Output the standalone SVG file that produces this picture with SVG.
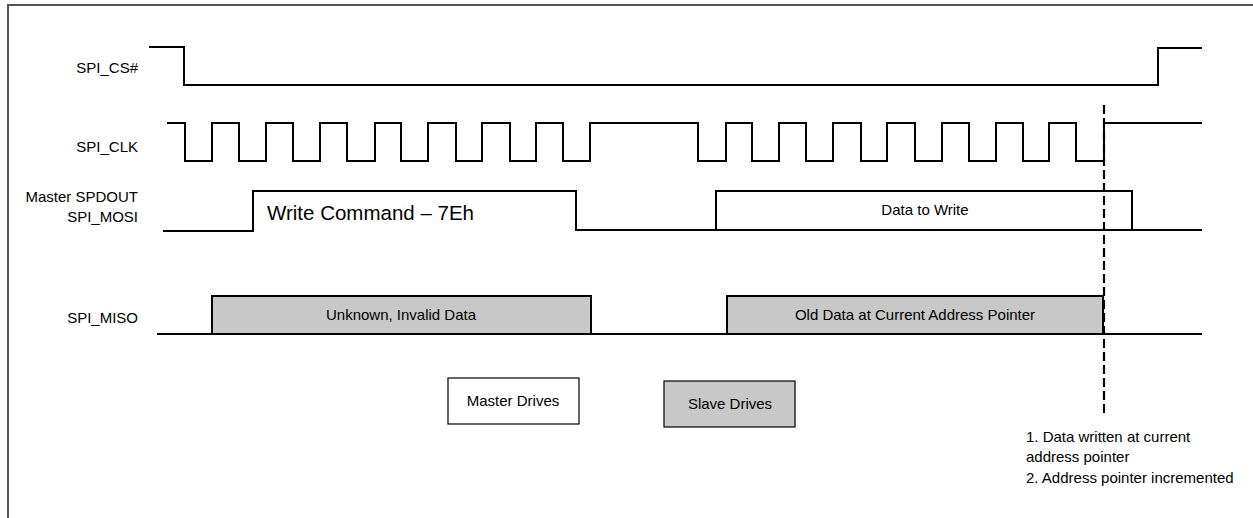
<svg xmlns="http://www.w3.org/2000/svg" width="1253" height="518" viewBox="0 0 1253 518">
<style>
.w{fill:none;stroke:#000;stroke-width:2;stroke-linejoin:miter}
.lbl{font-family:"Liberation Sans",Arial,sans-serif;font-size:15px;fill:#000}
.r{text-anchor:end}
.c{text-anchor:middle}
.box{fill:#c8c8c8;stroke:#000;stroke-width:2}
.lg{stroke:#000;stroke-width:1.2}
</style>
<rect width="1253" height="518" fill="#fff"/>
<g id="frame">
<path d="M8,518 V5 H1253" fill="none" stroke="#555" stroke-width="2"/>
</g>
<g id="labels">
<text class="lbl r" x="138" y="73">SPI_CS#</text>
<text class="lbl r" x="138" y="152">SPI_CLK</text>
<text class="lbl r" x="138" y="202">Master SPDOUT</text>
<text class="lbl r" x="138" y="222">SPI_MOSI</text>
<text class="lbl r" x="138" y="323">SPI_MISO</text>
</g>
<g id="connectors">
<path id="cs" class="w" d="M149,47 H184 V85 H1158 V48 H1202"/>
<path id="clk" class="w" d="M167,123 H185 V161 H212 V123 H239 V161 H266 V123 H293 V161 H320 V123 H347 V161 H375 V123 H401 V161 H428 V123 H456 V161 H482 V123 H510 V161 H536 V123 H563 V161 H590 V123 H698 V161 H726 V123 H752 V161 H779 V123 H806 V161 H833 V123 H861 V161 H887 V123 H915 V161 H942 V123 H969 V161 H996 V123 H1023 V161 H1049 V123 H1076 V161 H1104 V123 H1202"/>
<path id="mosi" class="w" d="M163,231 H253 V191 H576 V230 H716 V191 H1132 V230"/>
<path class="w" d="M716,230 H1202"/>
<path id="miso" class="w" d="M157,334 H591"/>
<rect class="box" x="212" y="296" width="379" height="38"/>
<path class="w" d="M591,334 H727"/>
<rect class="box" x="727" y="296" width="376" height="38"/>
<path class="w" d="M1103,334 H1202"/>
<path id="marker" d="M1104,105 V414" fill="none" stroke="#000" stroke-width="2.2" stroke-dasharray="9,4"/>
</g>
<g id="texts">
<text x="267" y="220" style="font-family:'Liberation Sans',Arial,sans-serif;font-size:20.5px">Write Command – 7Eh</text>
<text class="lbl c" x="925" y="215">Data to Write</text>
<text class="lbl c" x="401" y="320">Unknown, Invalid Data</text>
<text class="lbl c" x="915" y="320">Old Data at Current Address Pointer</text>
</g>
<g id="legend-master">
<rect class="lg" x="448" y="378" width="131" height="46" fill="#fff"/>
<text class="lbl c" x="513" y="406">Master Drives</text>
</g>
<g id="legend-slave">
<rect class="lg" x="664" y="381" width="131" height="46" fill="#c8c8c8"/>
<text class="lbl c" x="730" y="409">Slave Drives</text>
</g>
<g id="note">
<text class="lbl" x="1026" y="442">1. Data written at current</text>
<text class="lbl" x="1026" y="462">address pointer</text>
<text class="lbl" x="1026" y="483">2. Address pointer incremented</text>
</g>
</svg>
